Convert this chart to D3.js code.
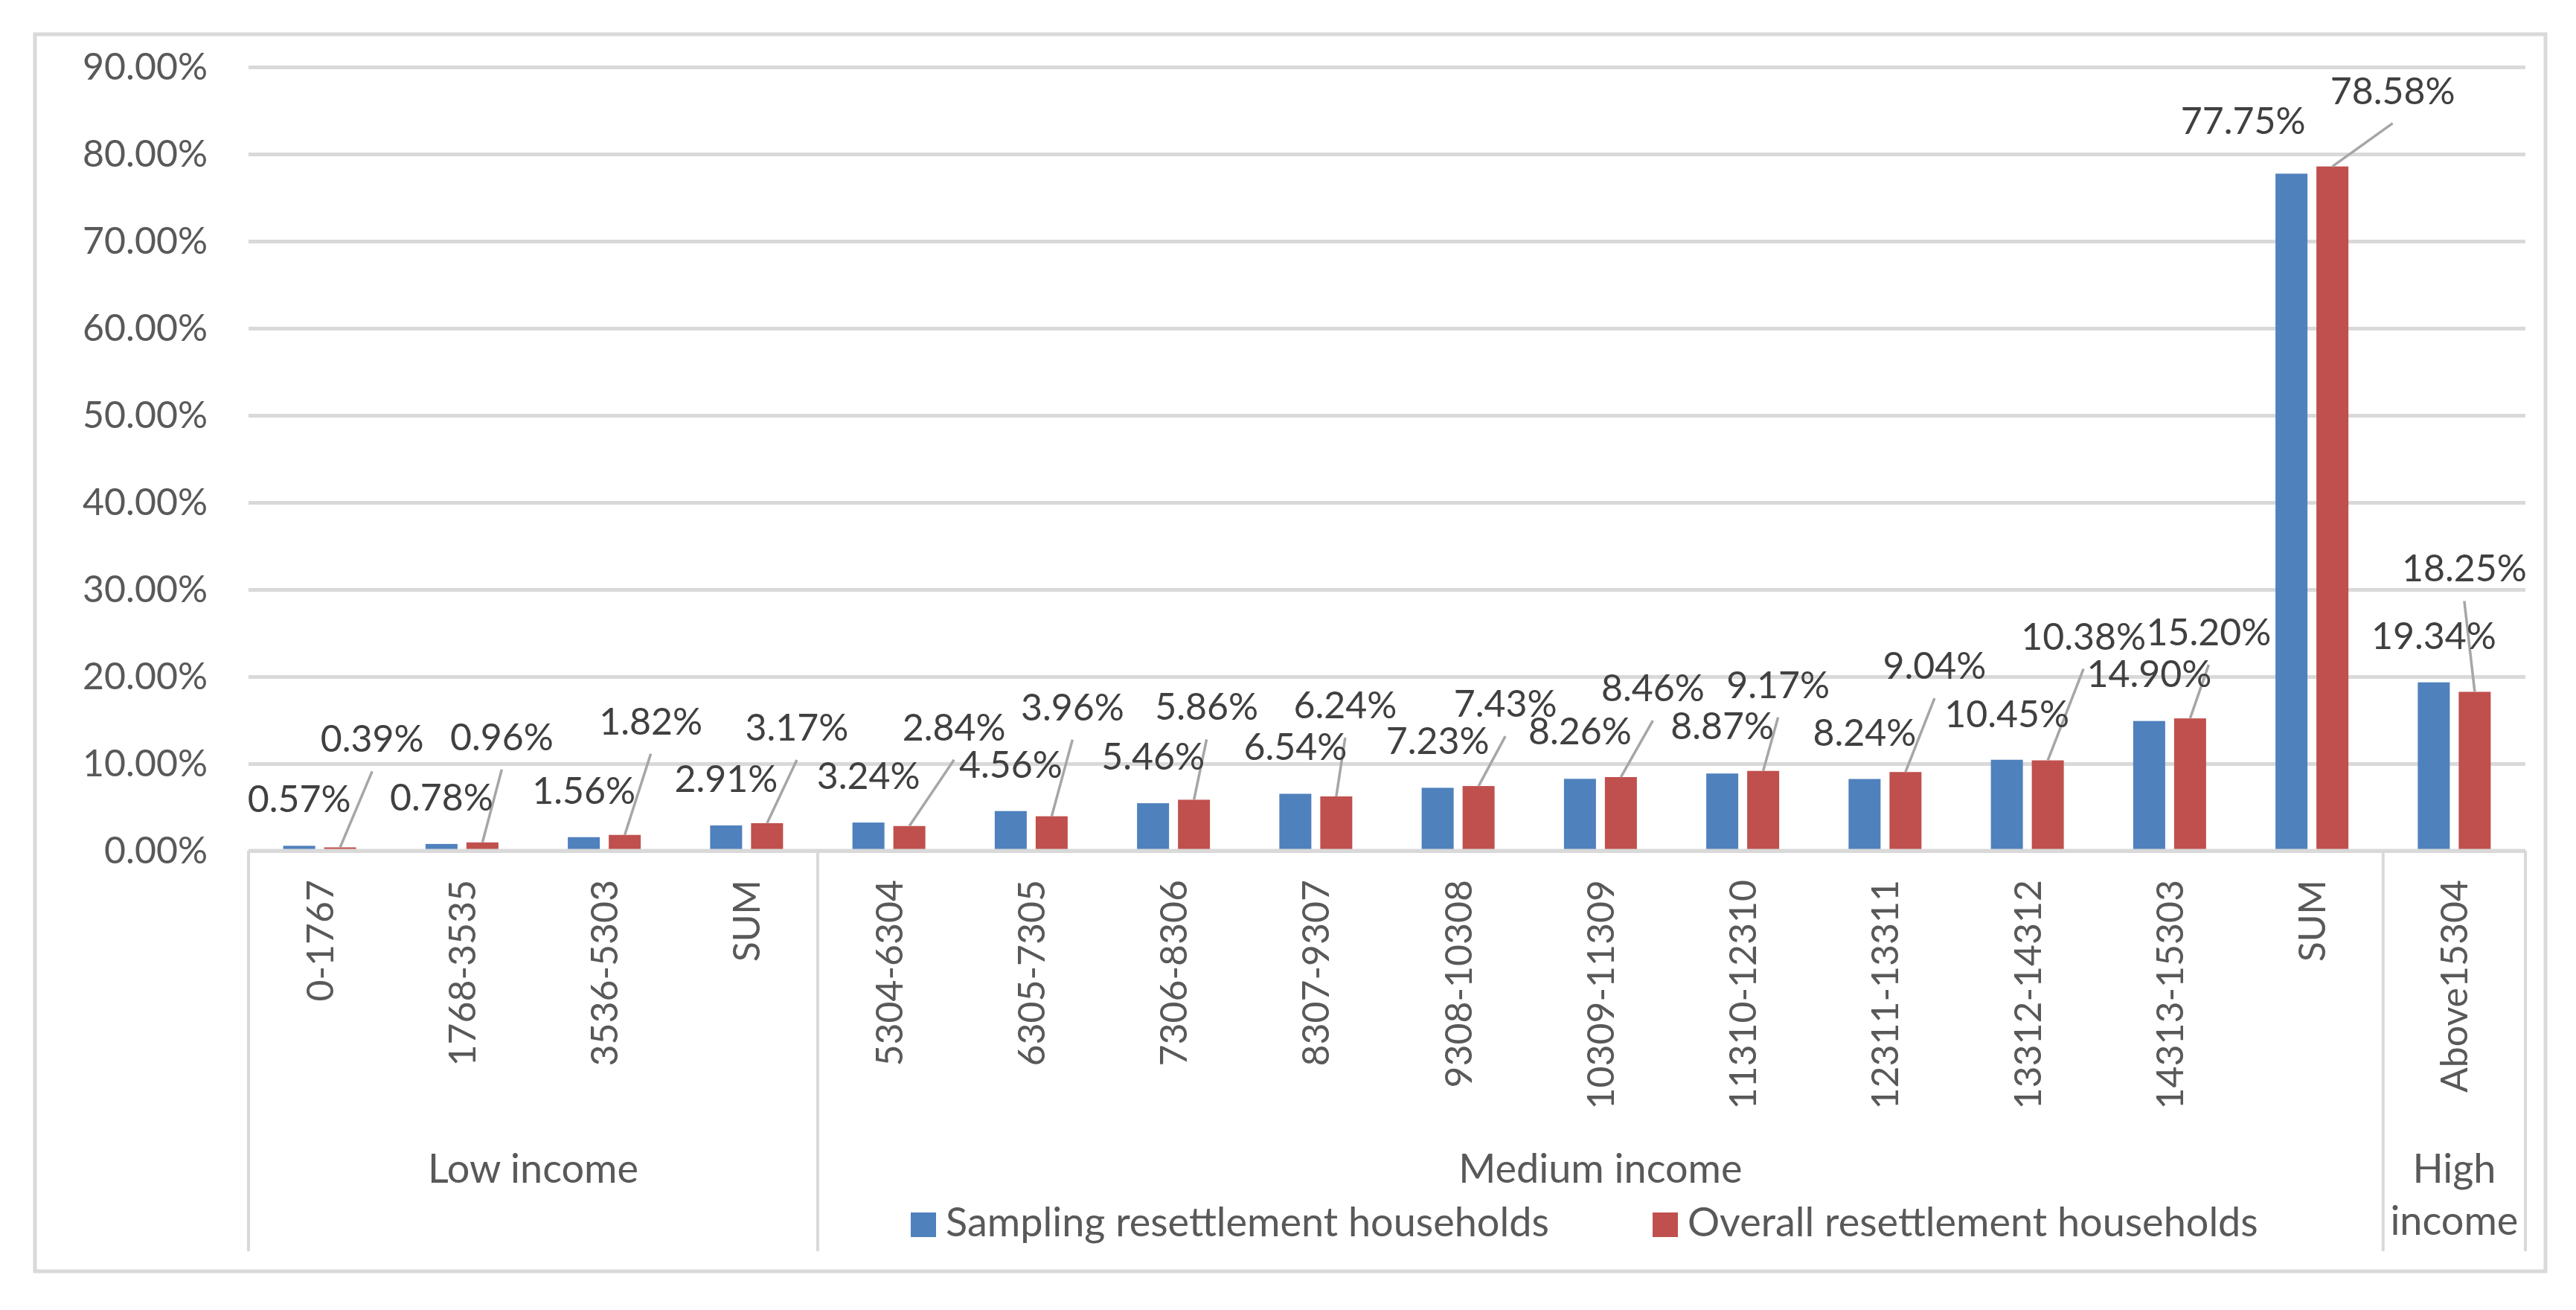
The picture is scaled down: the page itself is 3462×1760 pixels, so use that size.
<!DOCTYPE html>
<html>
<head>
<meta charset="utf-8">
<script src="https://cdn.jsdelivr.net/npm/d3@7"></script>
<style>
  body { margin: 0; background: #fff; }
  text { font-family: Lato, "Open Sans", sans-serif; }
</style>
</head>
<body>
<svg id="chart" width="3462" height="1760"></svg>
<script>
// income bands (yuan), grouped low / medium / high
var categories = ["0-1767", "1768-3535", "3536-5303", "SUM",
  "5304-6304", "6305-7305", "7306-8306", "8307-9307", "9308-10308",
  "10309-11309", "11310-12310", "12311-13311", "13312-14312", "14313-15303", "SUM",
  "Above15304"];
var groupNames = ["Low income", "Medium income", "High income"];
var groupSizes = [4, 11, 1];

var seriesNames = ["Sampling resettlement households", "Overall resettlement households"];
var sampling = [0.57, 0.78, 1.56, 2.91, 3.24, 4.56, 5.46, 6.54, 7.23, 8.26, 8.87, 8.24, 10.45, 14.90, 77.75, 19.34];
var overall  = [0.39, 0.96, 1.82, 3.17, 2.84, 3.96, 5.86, 6.24, 7.43, 8.46, 9.17, 9.04, 10.38, 15.20, 78.58, 18.25];
var yTicks = [0, 10, 20, 30, 40, 50, 60, 70, 80, 90];

// hand-placed label offsets (dx from bar centre, dy from bar top to baseline)
var blueShift = [[0,-45],[0,-45],[0,-45],[0,-45],[0,-45],[0,-45],[0,-45],[0,-45],
  [0,-45],[0,-46],[0,-46],[0,-45],[0,-44],[0,-46],[-65,-53],[0,-45]];
var redShift = [[43,-128],[26,-124],[35,-135],[40,-111],[60,-115],[28,-129],[17,-107],[12,-105],
  [36,-93],[43,-102],[20,-98],[39,-125],[48,-149],[25,-98],[81,-84],[-14,-148]];

var colors = ["#4F81BD", "#C0504D"];
var svg = d3.select("#chart");

var plotLeft = 334, plotRight = 3394, plotTop = 90, plotBottom = 1143;

// outer chart border
svg.append("rect")
  .attr("x", 47).attr("y", 46)
  .attr("width", 3374).attr("height", 1662)
  .attr("fill", "#fff")
  .attr("stroke", "#d9d9d9").attr("stroke-width", 5);

var x = d3.scaleBand()
  .domain(d3.range(categories.length))
  .range([plotLeft, plotRight]);

var pairW = 98;
var xSub = d3.scaleBand()
  .domain([0, 1])
  .range([(x.bandwidth() - pairW) / 2, (x.bandwidth() + pairW) / 2])
  .paddingInner(12 / 55);

var y = d3.scaleLinear().domain([0, 90]).range([plotBottom, plotTop]);

// gridlines + y labels
var yAxis = svg.append("g")
  .attr("transform", "translate(" + plotLeft + ",0)")
  .call(d3.axisLeft(y)
    .tickValues(yTicks)
    .tickSize(-(plotRight - plotLeft))
    .tickPadding(55)
    .tickFormat(function(d){ return d.toFixed(2) + "%"; }));
yAxis.select(".domain").remove();
yAxis.selectAll(".tick line")
  .attr("stroke", "#d9d9d9")
  .attr("stroke-width", 5);
yAxis.selectAll(".tick text")
  .attr("fill", "#595959")
  .attr("font-size", 50)
  .style("font-family", "Lato");

// bars
var series = [sampling, overall];
series.forEach(function(vals, s){
  svg.append("g").selectAll("rect")
    .data(vals)
    .enter()
    .append("rect")
    .attr("x", function(d, i){ return x(i) + xSub(s); })
    .attr("y", function(d){ return y(d); })
    .attr("width", xSub.bandwidth())
    .attr("height", function(d){ return y(0) - y(d); })
    .attr("fill", colors[s]);
});

// category axis line and group separators
svg.append("line")
  .attr("x1", plotLeft).attr("x2", plotRight)
  .attr("y1", plotBottom).attr("y2", plotBottom)
  .attr("stroke", "#d9d9d9").attr("stroke-width", 5);

var edges = [0];
groupSizes.forEach(function(n, i){ edges.push(edges[i] + n); });
var edgeX = function(k){ return k < categories.length ? x(k) : plotRight; };
svg.append("g").selectAll("line")
  .data(edges)
  .enter()
  .append("line")
  .attr("x1", edgeX)
  .attr("x2", edgeX)
  .attr("y1", plotBottom).attr("y2", 1681)
  .attr("stroke", "#d9d9d9").attr("stroke-width", 4);

// rotated category labels
svg.append("g").selectAll("text")
  .data(categories)
  .enter()
  .append("text")
  .attr("transform", function(d, i){
    return "translate(" + (x(i) + x.bandwidth() / 2) + ",1182) rotate(-90)";
  })
  .attr("dy", "0.36em")
  .attr("text-anchor", "end")
  .attr("font-size", 50)
  .attr("fill", "#595959")
  .text(function(d){ return d; });

// group labels
svg.append("g").selectAll("text")
  .data(groupNames)
  .enter()
  .append("text")
  .attr("x", function(d, i){ return (edgeX(edges[i]) + edgeX(edges[i + 1])) / 2; })
  .attr("y", 1589)
  .attr("text-anchor", "middle")
  .attr("font-size", 54)
  .attr("fill", "#595959")
  .each(function(d){
    var t = d3.select(this);
    if (d === "High income") {
      var words = d.split(" ");
      t.append("tspan").attr("x", t.attr("x")).text(words[0]);
      t.append("tspan").attr("x", t.attr("x")).attr("dy", 70).text(words[1]);
    } else {
      t.text(d);
    }
  });

// leader lines for the red labels
svg.append("g").selectAll("line")
  .data(overall)
  .enter()
  .append("line")
  .attr("x1", function(d, i){ return x(i) + xSub(1) + xSub.bandwidth() / 2 + redShift[i][0]; })
  .attr("y1", function(d, i){ return y(d) + redShift[i][1] + 26; })
  .attr("x2", function(d, i){ return x(i) + xSub(1) + xSub.bandwidth() / 2; })
  .attr("y2", function(d){ return y(d); })
  .attr("stroke", "#a6a6a6")
  .attr("stroke-width", 3.5);

// value labels
var shifts = [blueShift, redShift];
series.forEach(function(vals, s){
  svg.append("g").selectAll("text")
    .data(vals)
    .enter()
    .append("text")
    .attr("x", function(d, i){ return x(i) + xSub(s) + xSub.bandwidth() / 2 + shifts[s][i][0]; })
    .attr("y", function(d, i){ return y(d) + shifts[s][i][1]; })
    .attr("text-anchor", "middle")
    .attr("font-size", 50)
    .attr("fill", "#404040")
    .text(function(d){ return d.toFixed(2) + "%"; });
});

// legend
var legend = svg.append("g");
var legendX = [1224, 2221];
seriesNames.forEach(function(name, s){
  legend.append("rect")
    .attr("x", legendX[s]).attr("y", 1629)
    .attr("width", 34).attr("height", 33)
    .attr("fill", colors[s]);
  legend.append("text")
    .attr("x", legendX[s] + 47).attr("y", 1661)
    .attr("font-size", 54)
    .attr("fill", "#595959")
    .text(name);
});
</script>
</body>
</html>
